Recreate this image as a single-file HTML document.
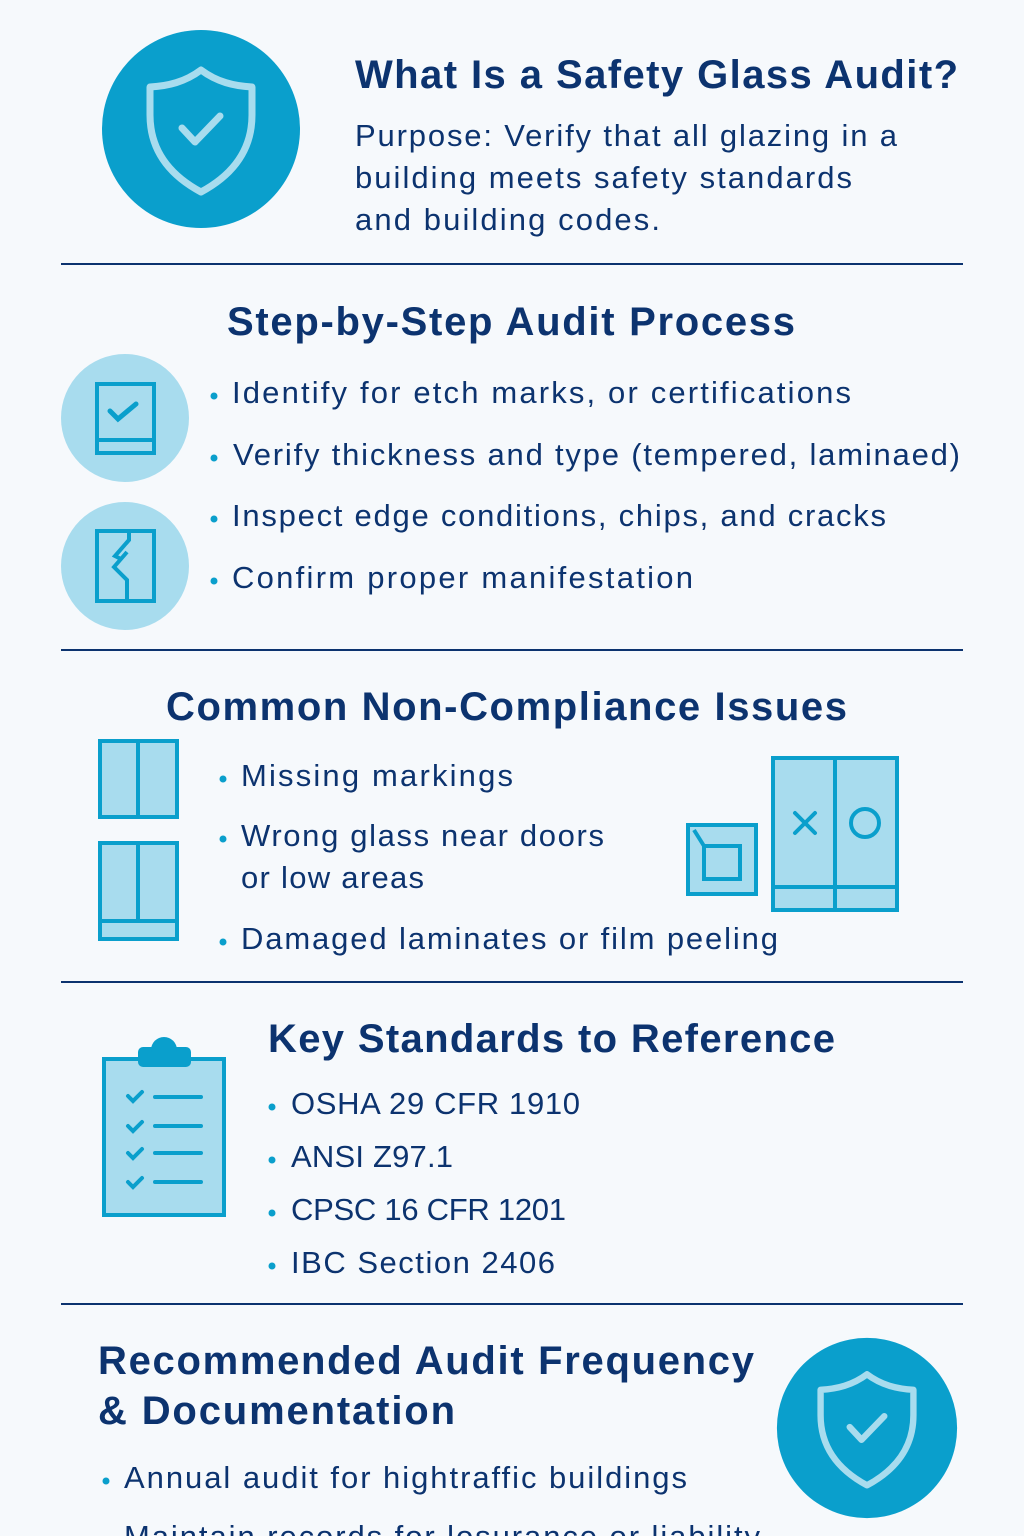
<!DOCTYPE html>
<html><head><meta charset="utf-8"><style>
html,body{margin:0;padding:0;background:#f6f9fc;}
svg{display:block;}
text{font-family:"Liberation Sans",sans-serif;fill:#0c336f;}
.t{font-weight:bold;font-size:40px;}
.b{font-size:31px;}
</style></head><body>
<svg width="1024" height="1536" viewBox="0 0 1024 1536" xmlns="http://www.w3.org/2000/svg">
<rect width="1024" height="1536" fill="#f6f9fc"/>
<defs>
<g id="shield">
<circle cx="201" cy="129" r="99" fill="#0a9fcc"/>
<path d="M201,70 C185,82 168,86 150,87 L150,115 C150,155 175,178 201,192 C227,178 252,155 252,115 L252,87 C234,86 217,82 201,70Z" fill="none" stroke="#a8dcee" stroke-width="7" stroke-linejoin="round"/>
<path d="M182,128 L195,142 L220,116" fill="none" stroke="#a8dcee" stroke-width="7" stroke-linecap="round" stroke-linejoin="round"/>
</g>
</defs>
<use href="#shield"/>
<text class="t" x="355" y="88" textLength="603">What Is a Safety Glass Audit?</text>
<text class="b" x="355" y="146" textLength="542">Purpose: Verify that all glazing in a</text>
<text class="b" x="355" y="188" textLength="497">building meets safety standards</text>
<text class="b" x="355" y="230" textLength="305">and building codes.</text>
<line x1="61" y1="264" x2="963" y2="264" stroke="#0c336f" stroke-width="2"/>

<text class="t" x="227" y="335" textLength="568">Step-by-Step Audit Process</text>
<circle cx="125" cy="418" r="64" fill="#a8dcee"/>
<circle cx="125" cy="566" r="64" fill="#a8dcee"/>
<g fill="none" stroke="#0a9fcc" stroke-width="4">
<rect x="97" y="384" width="57" height="69"/>
<line x1="97" y1="440" x2="154" y2="440"/>
<path d="M110,411 L118,419 L136,404" stroke-linecap="round" stroke-width="5"/>
<rect x="97" y="531" width="57" height="70"/>
<path d="M129,531 L129,540 L115,556 L121,559 M127,552 L114,567 L127,580 L127,601"/>
</g>
<g fill="#0a9fcc"><circle cx="214" cy="396" r="3.5"/><circle cx="214" cy="458" r="3.5"/><circle cx="214" cy="519" r="3.5"/><circle cx="214" cy="581" r="3.5"/></g>
<text class="b" x="232" y="403" textLength="619">Identify for etch marks, or certifications</text>
<text class="b" x="233" y="465" textLength="727">Verify thickness and type (tempered, laminaed)</text>
<text class="b" x="232" y="526" textLength="654">Inspect edge conditions, chips, and cracks</text>
<text class="b" x="232" y="588" textLength="461">Confirm proper manifestation</text>
<line x1="61" y1="650" x2="963" y2="650" stroke="#0c336f" stroke-width="2"/>

<text class="t" x="166" y="720" textLength="681">Common Non-Compliance Issues</text>
<g fill="#a8dcee" stroke="#0a9fcc" stroke-width="4">
<rect x="100" y="741" width="77" height="76"/>
<line x1="138" y1="741" x2="138" y2="817"/>
<rect x="100" y="843" width="77" height="96"/>
<line x1="138" y1="843" x2="138" y2="921"/>
<line x1="100" y1="921" x2="177" y2="921"/>
<rect x="688" y="825" width="68" height="69"/>
<rect x="704" y="846" width="36" height="33" fill="none"/>
<line x1="694" y1="830" x2="704" y2="846"/>
<rect x="773" y="758" width="124" height="152"/>
<line x1="835" y1="758" x2="835" y2="910"/>
<line x1="773" y1="887" x2="897" y2="887"/>
<path d="M795,813 L815,833 M815,813 L795,833" stroke-linecap="round"/>
<circle cx="865" cy="823" r="14" fill="none"/>
</g>
<g fill="#0a9fcc"><circle cx="223" cy="779" r="3.5"/><circle cx="223" cy="839" r="3.5"/><circle cx="223" cy="942" r="3.5"/></g>
<text class="b" x="241" y="786" textLength="272">Missing markings</text>
<text class="b" x="241" y="846" textLength="363">Wrong glass near doors</text>
<text class="b" x="241" y="888" textLength="183">or low areas</text>
<text class="b" x="241" y="949" textLength="537">Damaged laminates or film peeling</text>
<line x1="61" y1="982" x2="963" y2="982" stroke="#0c336f" stroke-width="2"/>

<text class="t" x="268" y="1052" textLength="567">Key Standards to Reference</text>
<rect x="104" y="1059" width="120" height="156" fill="#a8dcee" stroke="#0a9fcc" stroke-width="4"/>
<rect x="138" y="1047" width="53" height="20" rx="5" fill="#0a9fcc"/>
<circle cx="164" cy="1050" r="13" fill="#0a9fcc"/>
<g stroke="#0a9fcc" stroke-width="4" stroke-linecap="round" fill="none">
<path d="M128,1096 L133,1101 L142,1092 M155,1097 L201,1097"/>
<path d="M128,1126 L133,1131 L142,1122 M155,1126 L201,1126"/>
<path d="M128,1153 L133,1158 L142,1149 M155,1153 L201,1153"/>
<path d="M128,1182 L133,1187 L142,1178 M155,1182 L201,1182"/>
</g>
<g fill="#0a9fcc"><circle cx="272" cy="1107" r="3.5"/><circle cx="272" cy="1160" r="3.5"/><circle cx="272" cy="1213" r="3.5"/><circle cx="272" cy="1266" r="3.5"/></g>
<text class="b" x="291" y="1114" textLength="289">OSHA 29 CFR 1910</text>
<text class="b" x="291" y="1167" textLength="162">ANSI Z97.1</text>
<text class="b" x="291" y="1220" textLength="275">CPSC 16 CFR 1201</text>
<text class="b" x="291" y="1273" textLength="264">IBC Section 2406</text>
<line x1="61" y1="1304" x2="963" y2="1304" stroke="#0c336f" stroke-width="2"/>

<text class="t" x="98" y="1374" textLength="656">Recommended Audit Frequency</text>
<text class="t" x="98" y="1424" textLength="357">&amp; Documentation</text>
<g fill="#0a9fcc"><circle cx="106" cy="1481" r="3.5"/><circle cx="106" cy="1540" r="3.5"/></g>
<text class="b" x="124" y="1488" textLength="563">Annual audit for hightraffic buildings</text>
<text class="b" x="124" y="1547" textLength="636">Maintain records for losurance or liability</text>
<use href="#shield" transform="translate(867,1428) scale(0.91) translate(-201,-129)"/>
</svg>
</body></html>
